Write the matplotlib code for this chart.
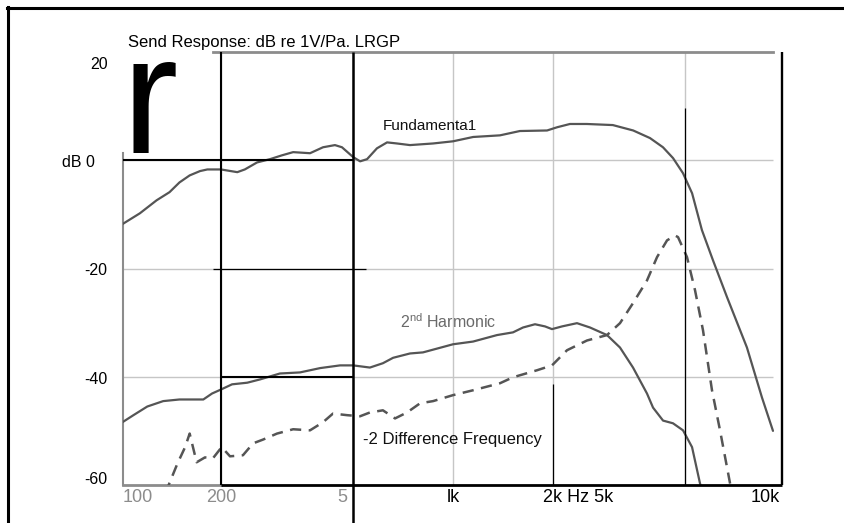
import matplotlib
matplotlib.use("Agg")
import matplotlib.pyplot as plt
from matplotlib.lines import Line2D
from matplotlib.patches import Rectangle
from matplotlib.transforms import blended_transform_factory

plt.rcParams["font.family"] = ["Liberation Sans", "DejaVu Sans"]
plt.rcParams["mathtext.fontset"] = "custom"
plt.rcParams["mathtext.rm"] = "Liberation Sans"

# --- data (Hz, dB) ---
fund_hz = [101, 114, 128, 140, 150, 161, 173, 182, 200, 224, 236, 257, 281, 305, 330,
           371, 406, 441, 463, 500, 525, 551, 590, 633, 678, 742, 871, 1000, 1150, 1385,
           1590, 1920, 2060, 2250, 2530, 3030, 3490, 3920, 4290, 4600, 4930, 5250, 5620,
           6070, 6690, 7680, 8520, 9200]
fund_db = [-11.8, -9.8, -7.4, -5.9, -4.1, -2.8, -2.0, -1.7, -1.7, -2.2, -1.7, -0.4, 0.2, 0.9, 1.5,
           1.3, 2.4, 2.8, 2.4, 0.6, -0.2, 0.2, 2.2, 3.3, 3.1, 2.8, 3.1, 3.5, 4.3, 4.6,
           5.4, 5.5, 6.1, 6.7, 6.7, 6.5, 5.5, 4.1, 2.4, 0.4, -2.4, -6.1, -12.9,
           -18.5, -25.3, -34.6, -43.8, -50.0]

harm_hz = [101, 109, 120, 134, 150, 177, 188, 201, 216, 240, 262, 301, 346, 398, 457,
           500, 562, 615, 660, 742, 812, 895, 1000, 1149, 1357, 1516, 1625, 1766, 1893,
           1987, 2130, 2363, 2586, 2910, 3184, 3485, 3840, 4004, 4292, 4599, 4930, 5248,
           5546, 5623]
harm_db = [-48.4, -47.1, -45.5, -44.5, -44.2, -44.2, -43.1, -42.3, -41.4, -41.1, -40.5, -39.4,
           -39.2, -38.4, -37.9, -37.9, -38.3, -37.5, -36.5, -35.7, -35.5, -34.8, -34.0, -33.5,
           -32.3, -31.8, -30.9, -30.3, -30.7, -31.2, -30.7, -30.1, -30.9, -32.3, -34.6, -38.3,
           -43.1, -45.7, -48.1, -48.6, -49.9, -53.0, -59.7, -61.0]

diff_hz = [136, 148, 156, 161, 169, 179, 189, 201, 213, 233, 250, 268, 295, 330, 371,
           406, 435, 480, 525, 562, 615, 669, 727, 796, 871, 1000, 1149, 1385, 1516, 1791,
           1987, 2205, 2533, 2910, 3184, 3485, 3840, 4117, 4413, 4664, 4762, 5068, 5357,
           5662, 6027, 6372, 6831, 6930]
diff_db = [-61.5, -56.0, -53.0, -50.5, -55.8, -54.9, -55.1, -53.0, -54.7, -54.5, -52.3, -51.6,
           -50.5, -49.7, -49.9, -48.4, -46.8, -47.1, -47.3, -46.6, -46.2, -47.7, -46.6, -44.9,
           -44.5, -43.4, -42.5, -41.2, -40.1, -38.8, -37.9, -35.1, -33.3, -32.3, -30.1, -26.4,
           -22.2, -17.9, -14.8, -13.9, -14.2, -17.9, -24.0, -31.4, -42.5, -49.9, -59.7, -61.5]

grid_hz = [200, 500, 1000, 2000, 5000]
grid_db = [0, -20, -40]

ytick_labels = ["20", "dB 0", "-20", "-40", "-60"]
ytick_pos = [17.6, -0.5, -20.3, -40.6, -58.9]
xtick_labels = ["100", "200", "5", "lk", "2k Hz 5k", "10k"]
xtick_pos = [112, 200, 463, 1000, 2380, 7860]
xtick_colors = ["#8c8c8c", "#8c8c8c", "#8c8c8c", "black", "black", "black"]

W, H = 845, 523
fig = plt.figure(figsize=(W / 100, H / 100), dpi=100)


def fx(px):
    return px / W


def fy(py):
    return 1 - py / H


ax = fig.add_axes([fx(123), fy(485), fx(782) - fx(123), fy(52) - fy(485)])
ax.set_xscale("log")
ax.set_xlim(101.4, 9794)
ax.set_ylim(-60, 20)
ax.axis("off")

# light grid of the original chart
ax.vlines(grid_hz, -60, 20, color="#c6c6c6", lw=1.0, zorder=1)
ax.hlines(grid_db, 101.4, 9200, color="#c6c6c6", lw=1.0, zorder=1)
ax.plot([189, 9200], [20, 20], color="#8c8c8c", lw=2.0, zorder=1, clip_on=False)
ax.plot([101.4, 101.4], [1.3, -60], color="#8c8c8c", lw=1.5, zorder=1, clip_on=False)
ax.plot([101.4, 200], [-60, -60], color="#8c8c8c", lw=2.0, zorder=1, clip_on=False)

# curves
ax.plot(fund_hz, fund_db, color="#555555", lw=1.6, zorder=2,
        solid_joinstyle="round", solid_capstyle="round")
ax.plot(harm_hz, harm_db, color="#555555", lw=1.6, zorder=2,
        solid_joinstyle="round", solid_capstyle="round")
ax.plot(diff_hz, diff_db, color="#555555", lw=1.8, zorder=2, dashes=(4.5, 3.0))

# black box overlay drawn on the scan
k = dict(color="black", zorder=3, clip_on=False, solid_capstyle="butt")
ax.plot([200, 200], [20, -60], lw=1.5, **k)
ax.plot([500, 500], [20, -67.5], lw=1.8, **k)
ax.plot([101.4, 500], [0, 0], lw=1.5, **k)
ax.plot([189, 548], [-20, -20], lw=0.9, **k)
ax.plot([200, 500], [-40, -40], lw=1.5, **k)
ax.plot([200, 9794], [-60, -60], lw=2.0, **k)
ax.plot([9794, 9794], [20, -60], lw=1.7, **k)
ax.plot([5000, 5000], [9.6, -60], lw=0.9, **k)
ax.plot([2000, 2000], [-41.4, -60], lw=0.9, **k)

# outer frame
fig.add_artist(Line2D([fx(7), 1], [fy(7.5), fy(7.5)], color="black", lw=2.2))
fig.add_artist(Line2D([fx(8.5), fx(8.5)], [fy(6.5), 0], color="black", lw=2.2))

# tick labels
ty = blended_transform_factory(fig.transFigure, ax.transData)
for lab, pos in zip(ytick_labels, ytick_pos):
    xr = 95 if lab.startswith("dB") else 107.5
    ax.text(fx(xr), pos, lab, transform=ty, ha="right", va="center", fontsize=11.5)

tx = blended_transform_factory(ax.transData, fig.transFigure)
clip = Rectangle((0, 0), fx(773.5), 1, transform=fig.transFigure)
for lab, pos, col in zip(xtick_labels, xtick_pos, xtick_colors):
    t = ax.text(pos, fy(502), lab, transform=tx, va="baseline", fontsize=13, color=col,
                ha="left" if lab == "10k" else "center")
    if lab == "10k":
        t.set_clip_path(clip)

# titles and curve labels
fig.text(fx(128), fy(47), "Send Response: dB re 1V/Pa. LRGP", fontsize=12, va="baseline")
fig.text(fx(121.5), fy(153), "r", fontsize=122, va="baseline", color="black",
         family=["Liberation Sans Narrow", "Liberation Sans"])
fig.text(fx(383), fy(130), "Fundamenta1", fontsize=11, va="baseline", color="#111111")
fig.text(fx(400), fy(328), r"2$^{\mathrm{nd}}$ Harmonic", fontsize=11.5, va="baseline",
         color="#6a6a6a")
fig.text(fx(363), fy(444), "-2 Difference Frequency", fontsize=12, va="baseline",
         color="#111111")

fig.savefig("out.png", dpi=100)
